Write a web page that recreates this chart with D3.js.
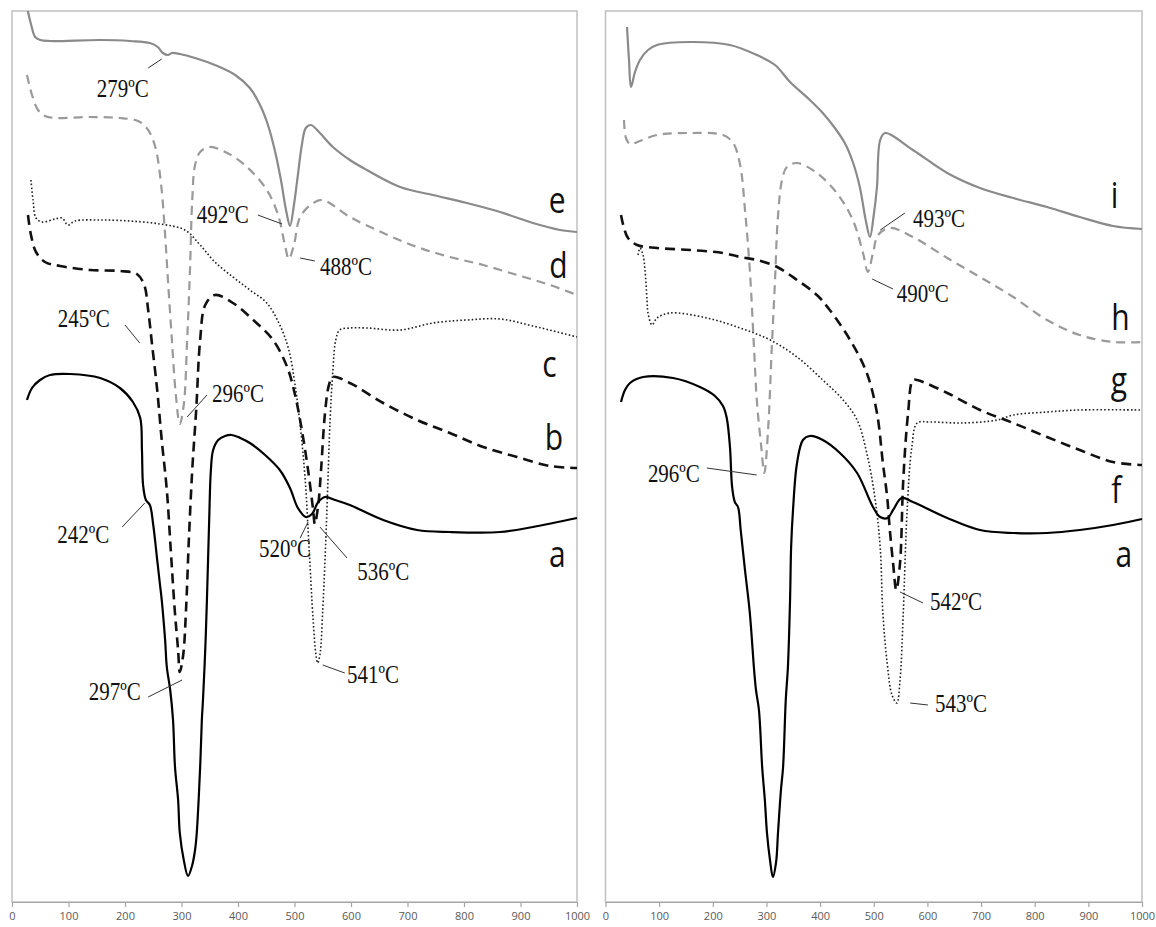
<!DOCTYPE html>
<html lang="en">
<head>
<meta charset="UTF-8">
<title>DTA curves</title>
<script src="https://cdnjs.cloudflare.com/ajax/libs/d3/7.8.5/d3.min.js"></script>
<style>
    body{ margin:0; background:#fff; }
    .axis path, .axis line{ stroke:#a6a6a6; stroke-width:1.2; }
    .axis text{ font-family:"Open Sans",sans-serif; font-size:11px; fill:#595959; }
    .frame{ fill:none; stroke:#c0c0c0; stroke-width:1.5; }
    .ann{ font-family:"Liberation Serif","Times New Roman",serif; font-size:21px; fill:#111; }
    .lead{ stroke:#333; stroke-width:1; }
    .lbl{ font-family:"Open Sans",sans-serif; font-size:30px; fill:#111; }
</style>
</head>
<body>
<svg id="chart" width="1156" height="927"></svg>
<script>
// temperature ticks (ºC)
const xTicks = [0,100,200,300,400,500,600,700,800,900,1000];

// ---- left panel: [temperature ºC, signal (arb. units)] ----
const curveE = [[28,89.1],[34,87.7],[41,86.5],[50,86.2],[67,86.1],[156,86.2],[209,86.1],[244,85.9],[258,85.5],[267,84.9],[276,84.7],[283,84.9],[297,84.8],[324,84.4],[359,83.7],[395,82.7],[421,81.4],[439,79.7],[453,77.7],[465,75.2],[476,72.2],[485,69.2],[492,67.6],[499,69.7],[506,72.7],[513,75.7],[520,77.4],[529,77.7],[545,76.9],[568,75.5],[598,74.2],[628,73.2],[687,71.5],[745,70.7],[805,69.9],[864,69.0],[922,67.9],[970,67.2],[1000,67.0]];
const curveD = [[26.5,82.7],[35.4,80.7],[46,79.2],[58.4,78.6],[76,78.4],[138,78.5],[191,78.4],[223,78.1],[237,77.5],[246,76.7],[255,75.2],[264,71.7],[271,66.7],[276,62.2],[283,56.2],[290,50.7],[297,47.8],[304,49.7],[310,56.2],[315,63.2],[319,70.2],[324,73.7],[333,75.0],[350,75.5],[381,74.9],[416,73.5],[451,71.2],[471,68.7],[483,65.7],[490,64.3],[499,65.7],[510,68.5],[533,69.9],[550,70.2],[598,68.5],[657,66.9],[717,65.5],[775,64.5],[834,63.7],[894,62.7],[952,61.7],[1000,60.7]];
const curveC = [[33.6,72.2],[37.2,70.2],[42.5,68.4],[53,68.0],[76,68.3],[88.5,68.4],[99,67.7],[111.5,68.1],[156,68.2],[209,68.1],[262,67.8],[306,67.2],[333,65.7],[359,64.0],[391,62.5],[421,61.2],[451,59.9],[474,57.7],[490,55.2],[501,51.7],[510,47.7],[519,42.2],[526,35.2],[533,28.2],[538,24.7],[541,23.9],[545,24.7],[550,29.2],[554,34.2],[558,40.2],[563,48.2],[568,53.2],[573,56.2],[580,57.2],[598,57.4],[628,57.4],[687,57.2],[745,57.9],[805,58.2],[864,58.3],[922,57.6],[1000,56.5]];
const curveB = [[28.3,68.7],[33.6,66.7],[42.5,65.0],[58.4,64.0],[85,63.6],[138,63.2],[191,63.1],[221,62.8],[234,61.7],[241,59.2],[248,55.7],[257,51.2],[265,46.2],[274,41.2],[281,35.2],[288,29.2],[294,25.2],[297,23.0],[303,24.7],[308,29.2],[313,36.2],[319,43.2],[326,49.2],[333,56.2],[342,59.7],[359,60.7],[391,59.9],[427,58.2],[462,56.2],[487,53.5],[501,50.7],[513,47.2],[524,43.2],[533,39.2],[536,37.8],[542,39.7],[547,43.2],[554,48.9],[561,51.7],[568,52.5],[598,51.9],[657,49.9],[717,48.2],[775,46.9],[834,45.5],[894,44.5],[952,43.6],[1000,43.4]];
const curveA = [[26.5,50.2],[35.4,51.4],[49.6,52.2],[67,52.7],[103,52.8],[156,52.4],[191,51.4],[214,50.0],[227,48.4],[230,45.2],[232,41.7],[237,40.2],[244,39.7],[250,37.7],[257,34.2],[262,31.7],[265,30.2],[271,26.2],[274,23.5],[280,21.2],[285,18.2],[288.5,13.5],[294,10.2],[297,6.9],[304,4.2],[311.5,2.6],[318.6,3.6],[324,5.2],[327,6.9],[333,13.5],[336,18.2],[338,20.2],[342,25.2],[345,30.2],[349,38.2],[352,43.2],[356,45.2],[365,46.2],[377,46.6],[389,46.7],[404,46.4],[421,45.9],[448,44.7],[474,43.2],[492,41.4],[506,39.4],[520,38.5],[531,38.8],[542,40.0],[554,40.5],[572,40.2],[598,39.7],[657,38.2],[717,37.2],[775,37.0],[864,37.0],[922,37.5],[1000,38.4]];

// ---- right panel ----
const curveI = [[40.1,87.5],[43.8,84.2],[47.5,81.5],[55,83.0],[64.3,84.2],[79.2,85.2],[96,85.7],[157.5,86.0],[232,85.7],[282,84.7],[316,83.7],[344,82.0],[381,80.2],[405,78.9],[427.5,77.4],[446,75.9],[461,74.0],[474,71.5],[485,68.2],[493,66.5],[500,68.7],[506,71.5],[512,76.2],[521,76.9],[573,75.2],[637,72.9],[698,71.4],[760,70.4],[823,69.5],[884,68.5],[946,67.6],[1000,67.3]];
const curveH = [[34.5,78.2],[38.2,76.4],[45.7,75.8],[64.3,76.1],[96,76.7],[157.5,76.9],[219,76.7],[238,75.9],[251,73.7],[260,69.2],[269,63.2],[277,55.2],[282,50.2],[290,45.7],[296,42.9],[303,47.2],[310,55.5],[316,62.2],[321,68.2],[329,72.2],[338,73.5],[357,73.9],[394,72.9],[431,70.9],[461,68.2],[480,64.9],[489,63.0],[499,65.0],[508,66.7],[530,67.4],[573,66.5],[637,64.4],[698,62.5],[760,60.5],[823,58.2],[884,56.7],[946,56.0],[1000,56.0]];
const curveG = [[28.9,68.7],[34.5,67.4],[42,66.4],[58.7,65.7],[96,65.4],[157.5,65.2],[219,64.9],[251,64.5],[282,64.2],[320,63.5],[357,62.2],[394,60.7],[418,59.2],[456,56.2],[487,52.9],[506,48.9],[517,43.9],[525,40.5],[530,37.2],[536,33.9],[542,31.2],[549,33.9],[555,42.2],[564,48.9],[573,52.2],[581,52.2],[637,50.9],[698,49.2],[760,47.9],[823,46.5],[884,45.2],[946,44.0],[1000,43.7]];
const curveF = [[60.6,64.7],[64.3,65.4],[70,64.7],[73.6,63.2],[77.4,60.2],[79.2,58.9],[86.7,57.7],[96,58.4],[120,58.9],[189,58.4],[251,57.4],[307,56.2],[357,54.5],[405,52.2],[443,50.2],[469,48.2],[487,44.9],[502,40.5],[512,35.5],[517,28.9],[525,23.9],[534,20.7],[543,19.9],[549,22.2],[555,28.9],[562,38.9],[571,45.5],[581,47.9],[605,48.0],[666,47.9],[730,48.2],[760,48.7],[823,49.0],[884,49.2],[1000,49.2]];
const curveA2 = [[28.9,50.0],[36.3,51.2],[45.7,51.9],[70,52.5],[126,52.4],[176,51.5],[204,50.6],[219,49.6],[226,48.4],[232,45.5],[236,41.5],[241,40.0],[247,39.5],[252,37.2],[260,33.2],[269,28.9],[277,23.2],[280.5,21.2],[286,19.2],[292,13.5],[297,10.2],[301,6.9],[306.6,4.2],[312,2.5],[318,4.0],[321.5,6.9],[327,11.2],[331,13.5],[336,20.2],[340,23.5],[344,30.2],[346,35.5],[349.5,39.2],[357,43.9],[368,46.2],[381,46.6],[405,46.2],[437,44.9],[469,42.9],[498.6,39.5],[512,38.5],[526,38.4],[536,39.2],[552,40.4],[573,40.0],[637,38.4],[698,37.2],[760,36.9],[823,36.9],[884,37.2],[946,37.7],[1000,38.3]];

// peak annotations: [text, textT, textV, leaderT1, leaderV1, leaderT2, leaderV2]
const notesLeft = [
    ['279ºC',150,80.5,241,83.4,265,84.3],
    ['492ºC',327,67.9,435,68.7,478,67.8],
    ['488ºC',545,62.7,510,64.4,536,64.1],
    ['245ºC',81,57.5,200,57.7,226,55.9],
    ['296ºC',354,50.0,345,50.7,310,48.5],
    ['242ºC',80,35.9,195,37.5,235,39.9],
    ['520ºC',437,34.5,510,36.4,524,38.0],
    ['536ºC',611,32.2,545,37.5,593,34.4],
    ['297ºC',136,20.2,241,20.5,301,22.2],
    ['541ºC',593,21.9,550,23.7,589,22.9]
];
const notesRight = [
    ['493ºC',573,67.5,558,68.9,512,67.2],
    ['490ºC',543,60.0,497,62.3,536,61.3],
    ['296ºC',79,42.0,189,43.4,282,42.7],
    ['542ºC',605,29.2,549,31.0,592,29.9],
    ['543ºC',614,19.0,568,19.9,601,19.7]
];

// curve letters: [letter, T, V]
const lettersLeft = [['e',965,68.9],['d',967,62.4],['c',951,52.5],['b',959,45.2],['a',965,33.5]];
const lettersRight = [['i',949,69.4],['h',960,57.2],['g',957,50.9],['f',952,39.9],['a',966,33.5]];

const styles = {
    graySolid:  {stroke:'#8a8a8a', width:2.2, dash:null},
    grayDash:   {stroke:'#9a9a9a', width:2.2, dash:'9,6'},
    blackDot:   {stroke:'#222',    width:1.6, dash:'1.6,2.2'},
    blackDash:  {stroke:'#111',    width:2.6, dash:'10,6'},
    blackSolid: {stroke:'#000',    width:2.2, dash:null}
};

const svg = d3.select('#chart');
svg.append('rect').attr('width',1156).attr('height',927).attr('fill','#fff');

const plotTop = 11, plotBottom = 902;
const y = d3.scaleLinear().domain([0,89.1]).range([plotBottom,plotTop]);

function drawPanel(x0, x1, series, notes, letters){
    const x = d3.scaleLinear().domain([0,1000]).range([x0,x1]);
    const g = svg.append('g');

    g.append('rect').attr('class','frame')
        .attr('x',x0).attr('y',plotTop).attr('width',x1-x0).attr('height',plotBottom-plotTop);

    const axis = d3.axisBottom(x).tickValues(xTicks).tickFormat(d3.format('d'))
        .tickSize(5).tickSizeOuter(0).tickPadding(5);
    g.append('g').attr('class','axis')
        .attr('transform','translate(0,'+plotBottom+')')
        .call(axis);

    const line = d3.line()
        .x(d=>x(d[0]))
        .y(d=>y(d[1]))
        .curve(d3.curveCatmullRom.alpha(0.5));

    series.forEach(s=>{
        const st = styles[s.style];
        g.append('path')
            .attr('d',line(s.data))
            .attr('fill','none')
            .attr('stroke',st.stroke)
            .attr('stroke-width',st.width)
            .attr('stroke-dasharray',st.dash)
            .attr('stroke-linejoin','round');
    });

    g.selectAll('.lead').data(notes).enter()
        .append('line').attr('class','lead')
        .attr('x1',d=>x(d[3])).attr('y1',d=>y(d[4]))
        .attr('x2',d=>x(d[5])).attr('y2',d=>y(d[6]));

    g.selectAll('.ann').data(notes).enter()
        .append('text').attr('class','ann')
        .attr('transform',d=>'translate('+x(d[1])+','+y(d[2])+') scale(1,1.15)')
        .text(d=>d[0]);

    g.selectAll('.lbl').data(letters).enter()
        .append('text').attr('class','lbl')
        .attr('text-anchor','middle')
        .attr('transform',d=>'translate('+x(d[1])+','+y(d[2])+') scale(1,1.2)')
        .text(d=>d[0]);
}

drawPanel(12, 577, [
    {data:curveE, style:'graySolid'},
    {data:curveD, style:'grayDash'},
    {data:curveC, style:'blackDot'},
    {data:curveB, style:'blackDash'},
    {data:curveA, style:'blackSolid'}
], notesLeft, lettersLeft);

drawPanel(605.5, 1142, [
    {data:curveI, style:'graySolid'},
    {data:curveH, style:'grayDash'},
    {data:curveF, style:'blackDot'},
    {data:curveG, style:'blackDash'},
    {data:curveA2, style:'blackSolid'}
], notesRight, lettersRight);
</script>
</body>
</html>
